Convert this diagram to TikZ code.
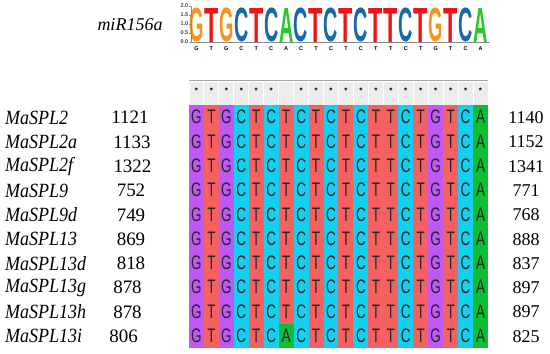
\documentclass[tikz,border=0pt]{standalone}
\usepackage{fontspec}
\setmainfont{Liberation Serif}
\newfontfamily\sansf{Liberation Sans}
\definecolor{cG}{RGB}{192,88,245}
\definecolor{cT}{RGB}{245,96,96}
\definecolor{cC}{RGB}{20,208,240}
\definecolor{cA}{RGB}{15,190,50}
\definecolor{lG}{RGB}{247,148,29}
\definecolor{lT}{RGB}{240,20,20}
\definecolor{lC}{RGB}{25,105,170}
\definecolor{lA}{RGB}{40,200,40}
\definecolor{hdrgray}{RGB}{236,236,236}
\tikzset{
  logoletter/.style={anchor=south, inner sep=0pt, outer sep=0pt},
  logolab/.style={inner sep=0pt, font=\sansf\bfseries\fontsize{5.5}{5.5}\selectfont},
  ticklab/.style={anchor=east, inner sep=0pt, font=\sansf\bfseries\fontsize{5.5}{5.5}\selectfont, text=black!75},
  axisline/.style={draw=black!45, line width=0.7pt},
  hcell/.style={fill=hdrgray, draw=white, line width=1pt, minimum width=14.95pt, minimum height=24pt, inner sep=0pt},
  starlab/.style={inner sep=0pt, font=\sansf\bfseries\fontsize{8}{8}\selectfont},
  seqcell/.style={minimum width=14.96pt, minimum height=24.3pt, inner sep=0pt, outer sep=0pt, text=black!85, font=\sansf\fontsize{13.5}{13.5}\selectfont},
  genename/.style={anchor=west, inner sep=0pt, font=\itshape\fontsize{18}{20}\selectfont},
  numlab/.style={inner sep=0pt, font=\fontsize{19}{20}\selectfont},
  rnumlab/.style={inner sep=0pt, font=\fontsize{18}{20}\selectfont},
  mirlab/.style={inner sep=0pt, font=\itshape\fontsize{18}{20}\selectfont}
}
\begin{document}
\begin{tikzpicture}[x=1pt,y=-1pt]
\useasboundingbox (0,0) rectangle (550,354);
% miRNA label
\node[mirlab] (mir) at (130,25) {miR156a};
% sequence logo
\foreach \l [count=\c] in {G,T,G,C,T,C,A,C,T,C,T,C,T,T,C,T,G,T,C,A} {
  \pgfmathsetmacro\xx{189+14.95*(\c-0.5)}
  \node[logoletter, text=l\l] (lg\c) at (\xx,42) {\resizebox*{14.3pt}{34pt}{\sansf\bfseries \l}};
  \node[logolab] (ll\c) at (\xx,49) {\l};
}
\coordinate (ytop) at (191,6);
\coordinate (orig) at (191,42);
\coordinate (xend) at (490,42);
\draw[axisline] (ytop) -- (orig) -- (xend);
\foreach \v/\yy [count=\k] in {2.0/6,1.5/15,1.0/24,0.5/33,0.0/42} {
  \coordinate (tk\k) at (191,\yy);
  \coordinate (tl\k) at (189,\yy);
  \draw[axisline] (tk\k) -- (tl\k);
  \node[ticklab] (tv\k) at (188.5,\yy) {\v};
}
% header row
\foreach \c in {1,...,20} {
  \pgfmathsetmacro\xx{189+14.95*(\c-0.5)}
  \node[hcell] (h\c) at (\xx,93) {};
  \ifnum\c=7\else
    \node[starlab] (st\c) at (\xx,90.5) {*};
  \fi
}
\coordinate (hl) at (189,80.5);
\coordinate (hr) at (488,80.5);
\draw[black!35, line width=0.8pt] (hl) -- (hr);
% alignment
\foreach \r in {0,...,9} {
  \foreach \l [count=\c] in {G,T,G,C,T,C,T,C,T,C,T,C,T,T,C,T,G,T,C,A} {
    \ifnum\r=9 \ifnum\c=7 \def\l{A}\fi\fi
    \pgfmathsetmacro\xx{189+14.95*(\c-0.5)}
    \pgfmathsetmacro\yy{105+24.3*(\r+0.5)}
    \node[seqcell, fill=c\l] (s\r-\c) at (\xx,\yy) {\scalebox{1}[1.45]{\l}};
  }
}
% labels
\foreach \nm/\a/\ax/\b [count=\r from 0] in {
  MaSPL2/1121/130/1140, MaSPL2a/1133/132/1152, MaSPL2f/1322/132.5/1341,
  MaSPL9/752/131/771, MaSPL9d/749/131/768, MaSPL13/869/131/888,
  MaSPL13d/818/131/837, MaSPL13g/878/127.5/897, MaSPL13h/878/127.5/897,
  MaSPL13i/806/123.5/825} {
  \pgfmathsetmacro\yy{105+24.3*(\r+0.5)+0.5}
  \node[genename] (n\r) at (5,\yy) {\scalebox{1}[1.12]{\nm}};
  \node[numlab] (a\r) at (\ax,\yy) {\a};
  \node[rnumlab] (b\r) at (526,\yy) {\b};
}
\end{tikzpicture}
\end{document}
